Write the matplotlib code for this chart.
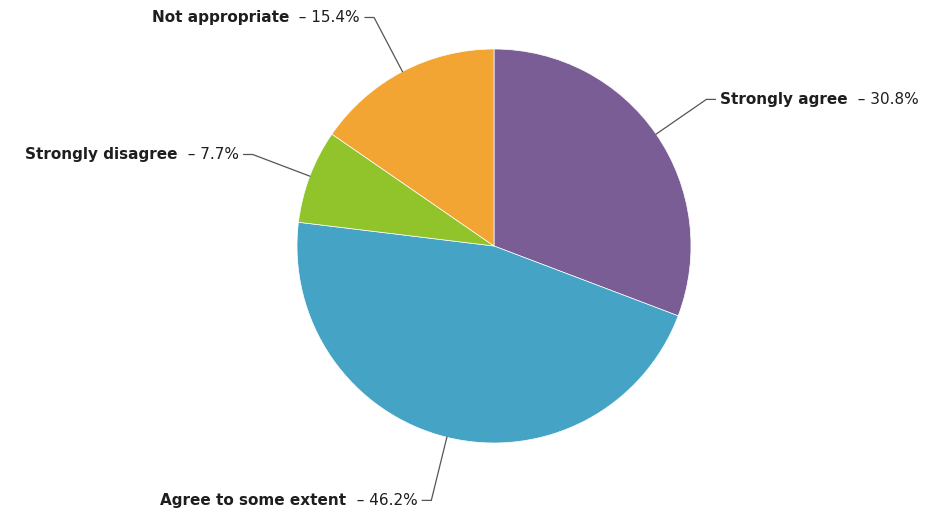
import numpy as np
import matplotlib.pyplot as plt

labels = ['Strongly agree', 'Agree to some extent', 'Strongly disagree', 'Not appropriate']
values = [30.8, 46.2, 7.7, 15.4]
colors = ['#7b5d95', '#45a3c6', '#90c42a', '#f3a534']

W, H = 935, 512
fig = plt.figure(figsize=(W / 100, H / 100), dpi=100)
ax = fig.add_axes([0, 0, 1, 1])

cx, cy, r = 494, H - 246, 197

wedges, _ = ax.pie(values, colors=colors, startangle=90, counterclock=False,
                   center=(cx, cy), radius=r, frame=True,
                   wedgeprops=dict(edgecolor='white', linewidth=0.5))
ax.set_xlim(0, W)
ax.set_ylim(0, H)
ax.set_aspect('equal')
ax.axis('off')

renderer = fig.canvas.get_renderer()
inv = ax.transData.inverted()


def text_width(t):
    bb = t.get_window_extent(renderer=renderer)
    p0 = inv.transform((bb.x0, bb.y0))
    p1 = inv.transform((bb.x1, bb.y1))
    return p1[0] - p0[0]


total = sum(values)
cum = 0
for lab, v in zip(labels, values):
    mid = (cum + v / 2) / total * 2 * np.pi
    cum += v
    ex, ey = cx + r * np.sin(mid), cy + r * np.cos(mid)
    dist = 1.31 if np.cos(mid) > -0.9 else 1.33
    bx, by = cx + dist * r * np.sin(mid), cy + dist * r * np.cos(mid)
    side = 1 if np.sin(mid) >= 0 else -1
    hx = bx + side * 9
    ax.plot([ex, bx, hx], [ey, by, by], color='#555555', lw=0.9)

    tx = hx + side * 5
    ty = by - 5
    name = ax.text(tx, ty, lab, fontsize=11, fontweight='bold', color='#1e1e1e',
                   ha='left', va='baseline')
    pct = ax.text(tx, ty, f'  \u2013 {v}%', fontsize=11, color='#1e1e1e',
                  ha='left', va='baseline')
    wn = text_width(name)
    wp = text_width(pct)
    if side > 0:
        pct.set_x(tx + wn)
    else:
        name.set_x(tx - wn - wp)
        pct.set_x(tx - wp)

fig.savefig('out.png', dpi=100, facecolor='white')
